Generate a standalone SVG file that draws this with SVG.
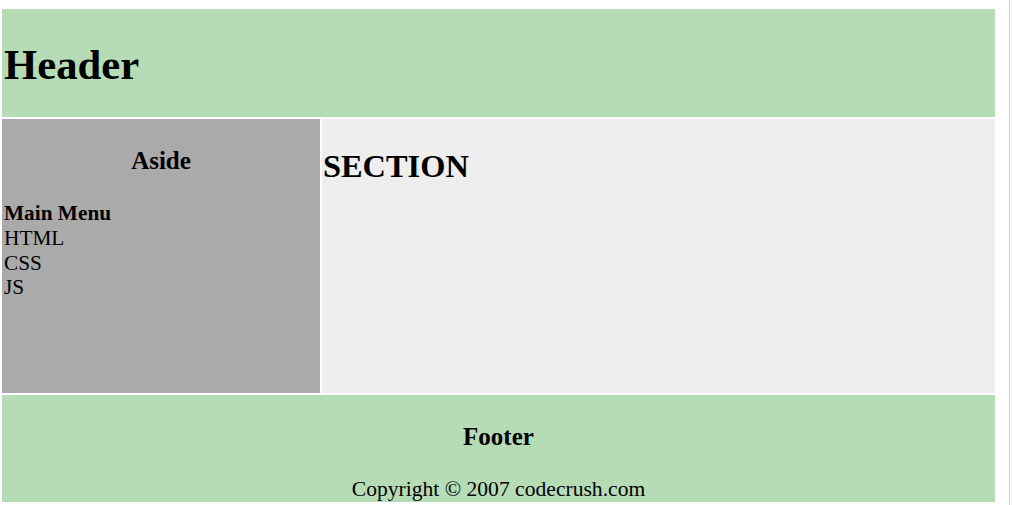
<svg xmlns="http://www.w3.org/2000/svg" width="1013" height="505" viewBox="0 0 1013 505">
<style>
.t{font-family:"Liberation Serif","Times New Roman",serif;fill:#000}
.b{font-weight:bold}
</style>
<rect x="0" y="0" width="1013" height="505" fill="#fff"/>
<line x1="1009.5" y1="0" x2="1009.5" y2="505" stroke="#d0d0d0" stroke-width="1"/>
<g id="header">
<rect x="2" y="9" width="993" height="108" fill="#b5dcb5"/>
<text class="t b" x="4" y="79" font-size="42.7">Header</text>
</g>
<g id="aside">
<rect x="2" y="119" width="318" height="274" fill="#aaaaaa"/>
<text class="t b" x="161" y="169" font-size="25" text-anchor="middle">Aside</text>
<text class="t b" x="4" y="220" font-size="21.3">Main Menu</text>
<text class="t" x="4" y="245" font-size="21.3">HTML</text>
<text class="t" x="4" y="270" font-size="21.3">CSS</text>
<text class="t" x="4" y="294" font-size="21.3">JS</text>
</g>
<g id="section">
<rect x="322" y="119" width="673" height="274" fill="#eeeeee"/>
<text class="t b" x="323" y="177" font-size="32.4">SECTION</text>
</g>
<g id="footer">
<rect x="2" y="395" width="993" height="107" fill="#b5dcb5"/>
<text class="t b" x="498.5" y="445" font-size="25" text-anchor="middle">Footer</text>
<text class="t" x="498.5" y="496" font-size="21.6" text-anchor="middle">Copyright © 2007 codecrush.com</text>
</g>
<g id="connectors"></g>
</svg>
